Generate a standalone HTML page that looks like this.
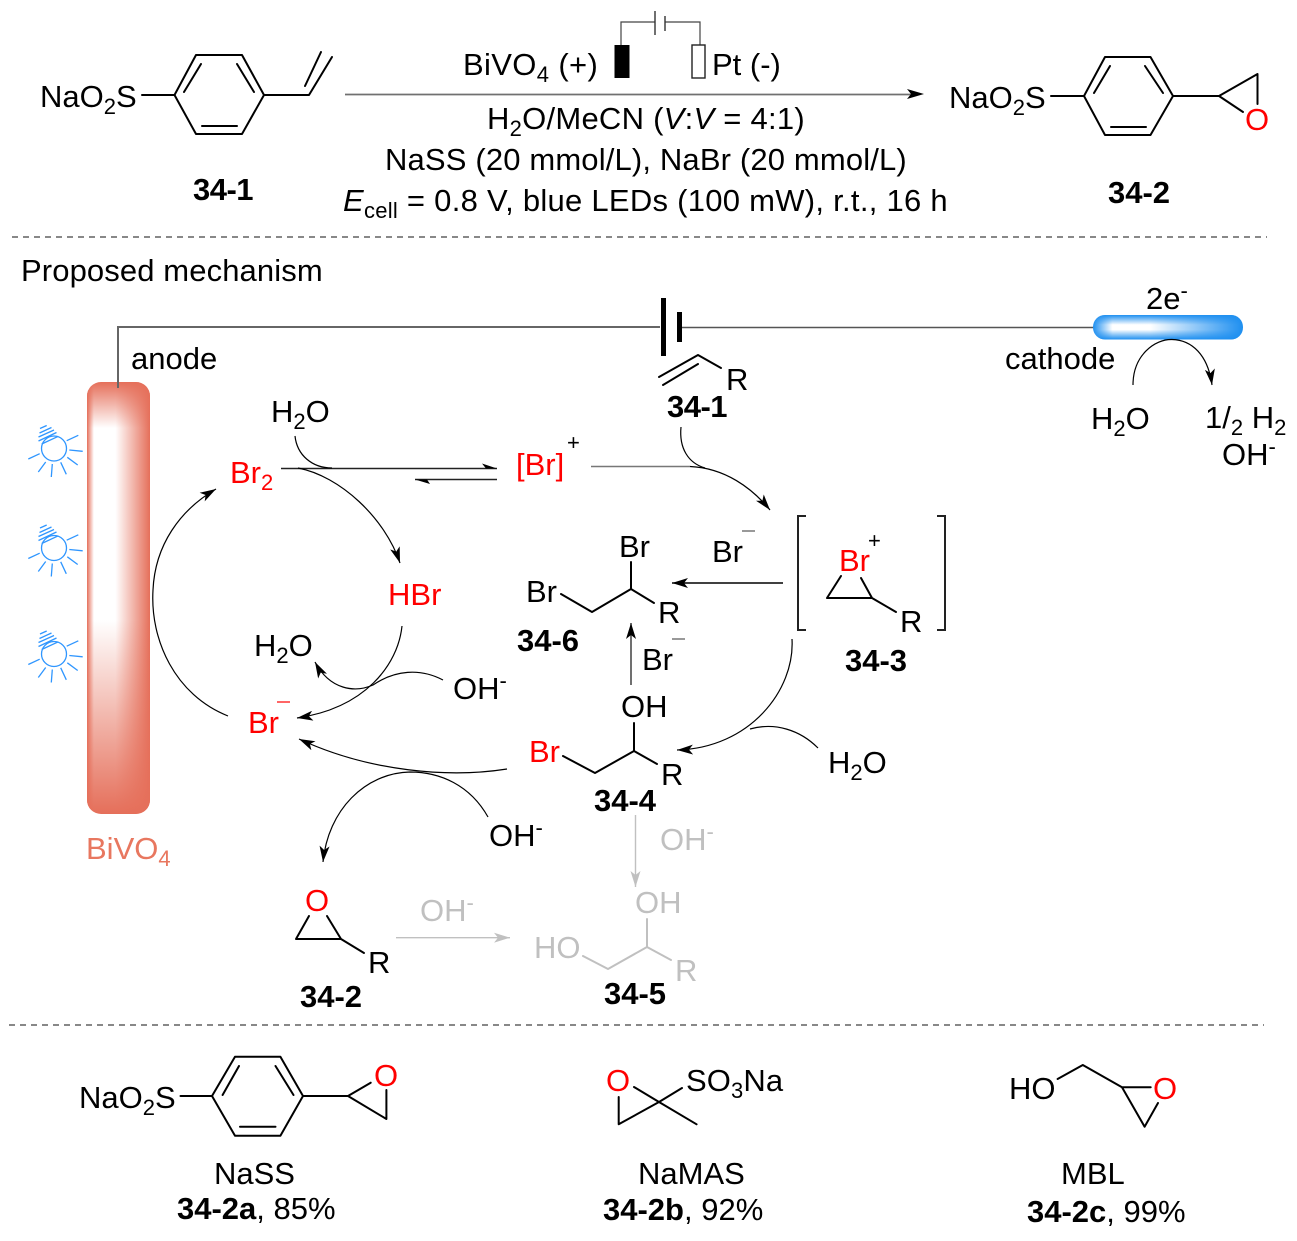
<!DOCTYPE html>
<html><head><meta charset="utf-8"><style>
html,body{margin:0;padding:0;background:#fff}
svg{display:block}
text{font-family:"Liberation Sans",sans-serif;font-size:31px;fill:#000}
.b{font-weight:bold}.r{fill:#f00}.g{fill:#c0c0c0}
.s{font-size:22px}
.bd{stroke:#000;stroke-width:2;fill:none;stroke-linecap:round;stroke-linejoin:round}
.gb{stroke:#c0c0c0;stroke-width:2;fill:none;stroke-linecap:round;stroke-linejoin:round}
.c{stroke:#000;stroke-width:1.2;fill:none}
</style></head><body>
<svg width="1297" height="1241" viewBox="0 0 1297 1241" xmlns="http://www.w3.org/2000/svg">
<defs>
<marker id="h" markerUnits="userSpaceOnUse" markerWidth="16" markerHeight="10" viewBox="0 0 16 10" refX="16" refY="5" orient="auto"><path d="M16 5L0 0L4 5L0 10Z" fill="#000"/></marker>
<marker id="hg" markerUnits="userSpaceOnUse" markerWidth="16" markerHeight="10" viewBox="0 0 16 10" refX="16" refY="5" orient="auto"><path d="M16 5L0 0L4 5L0 10Z" fill="#c0c0c0"/></marker>
<linearGradient id="ah"><stop offset="0" stop-color="#e56f5a"/><stop offset=".11" stop-color="#fff"/><stop offset=".45" stop-color="#fff"/><stop offset="1" stop-color="#e56f5a"/></linearGradient>
<linearGradient id="at" x1="0" y1="0" x2="0" y2="1"><stop offset="0" stop-color="#e56f5a"/><stop offset="1" stop-color="#e56f5a" stop-opacity="0"/></linearGradient>
<linearGradient id="ab" x1="0" y1="0" x2="0" y2="1"><stop offset="0" stop-color="#e56f5a" stop-opacity="0"/><stop offset="1" stop-color="#e56f5a"/></linearGradient>
<linearGradient id="ch"><stop offset="0" stop-color="#1e8ff0"/><stop offset=".13" stop-color="#fff"/><stop offset=".38" stop-color="#fff"/><stop offset="1" stop-color="#1e8ff0"/></linearGradient>
<linearGradient id="cv" x1="0" y1="0" x2="0" y2="1"><stop offset="0" stop-color="#1e8ff0"/><stop offset=".4" stop-color="#1e8ff0" stop-opacity="0"/><stop offset=".6" stop-color="#1e8ff0" stop-opacity="0"/><stop offset="1" stop-color="#1e8ff0"/></linearGradient>
<clipPath id="ac"><rect x="87" y="382" width="63" height="432" rx="14"/></clipPath>
<g id="bulb" fill="none" stroke="#2f96ff" stroke-width="1.3">
<circle cx="54" cy="448.5" r="12.5"/>
<path d="M66.7 440.7L78.3 435.3M69.3 450L82.7 451.3M67.3 457.3L77.7 465M60.7 462.3L66.3 474.3M52.3 464L51.3 477M45.7 462L38.3 472M39.7 453.7L28.3 459M41.7 444L58.3 436.3M38.5 441L56.5 432.5M38.5 437L54 430M39.5 433L51.5 427.5M40 428.5L46.7 425.5"/>
</g>
</defs>

<!-- top reaction -->
<text x="40" y="107">NaO<tspan class="s" dy="7">2</tspan><tspan dy="-7">S</tspan></text>
<path class="bd" d="M142 95H174.5L196 55H242L264 95L242 134H196L174.5 95M201 64L184 92M237 64L254 92M202 126H237M264 95H309L332 57M305 86L321 52"/>
<text class="b" x="193" y="200" style="letter-spacing:-.5px">34-1</text>

<path d="M345 94.5H912" stroke="#707070" stroke-width="1.8" fill="none"/>
<path d="M924 94L907 89L911 94L907 99Z"/>
<path d="M621 45V22H655M665 22H700V45" stroke="#444" stroke-width="1.2" fill="none"/>
<path d="M655 11V35M665 16V31" stroke="#333" stroke-width="1.4" fill="none"/>
<rect x="614.5" y="45" width="15" height="33"/>
<rect x="692" y="45" width="13" height="33" fill="#fff" stroke="#222" stroke-width="1.4"/>
<text x="463" y="75" style="letter-spacing:.35px">BiVO<tspan class="s" dy="7">4</tspan><tspan dy="-7"> (+)</tspan></text>
<text x="712" y="75">Pt (-)</text>
<text x="487" y="129" style="letter-spacing:.25px">H<tspan class="s" dy="7">2</tspan><tspan dy="-7">O/MeCN (</tspan><tspan font-style="italic">V</tspan>:<tspan font-style="italic">V</tspan> = 4:1)</text>
<text x="385" y="170" style="letter-spacing:.15px">NaSS (20 mmol/L), NaBr (20 mmol/L)</text>
<text x="343" y="211" style="letter-spacing:.27px"><tspan font-style="italic">E</tspan><tspan class="s" dy="7">cell</tspan><tspan dy="-7"> = 0.8 V, blue LEDs (100 mW), r.t., 16 h</tspan></text>

<text x="949" y="108">NaO<tspan class="s" dy="7">2</tspan><tspan dy="-7">S</tspan></text>
<path class="bd" d="M1051 96H1084L1105 57H1150.5L1173 96L1150.5 135H1105L1084 96M1110 66L1094 93M1145 66L1163 93M1111 127H1146M1173 96H1219L1257.5 74V104M1219 96L1243 112"/>
<text class="r" x="1245" y="130">O</text>
<text class="b" x="1108" y="203">34-2</text>

<path d="M12 237H1267" stroke="#111" stroke-width="1" stroke-dasharray="6 5" fill="none"/>
<text x="21" y="281" style="letter-spacing:.11px">Proposed mechanism</text>

<!-- circuit -->
<path d="M118 388V327H660" stroke="#666" stroke-width="2" fill="none"/>
<path d="M680 327.5H1095" stroke="#555" stroke-width="1.6" fill="none"/>
<rect x="661" y="298" width="5" height="58"/>
<rect x="677" y="312" width="5" height="30"/>
<text x="131" y="369">anode</text>
<text x="1005" y="369">cathode</text>
<rect x="1093" y="315" width="150" height="24.5" rx="12" fill="url(#ch)"/>
<rect x="1093" y="315" width="150" height="24.5" rx="12" fill="url(#cv)"/>
<text x="1146" y="309">2e<tspan class="s" dy="-11">-</tspan></text>
<path class="c" d="M1133 385C1133 355 1155 339 1172 339.5C1192 340 1208 355 1212 385" marker-end="url(#h)"/>
<text x="1091" y="429">H<tspan class="s" dy="7">2</tspan><tspan dy="-7">O</tspan></text>
<text x="1205" y="428">1/<tspan class="s" dy="7">2</tspan><tspan dy="-7"> H</tspan><tspan class="s" dy="7">2</tspan></text>
<text x="1222" y="465">OH<tspan class="s" dy="-11">-</tspan></text>

<!-- anode -->
<g clip-path="url(#ac)">
<rect x="87" y="382" width="63" height="432" fill="url(#ah)"/>
<rect x="87" y="382" width="63" height="46" fill="url(#at)"/>
<rect x="87" y="620" width="63" height="194" fill="url(#ab)"/>
</g>
<path d="M118 360V388" stroke="#666" stroke-width="2"/>
<text x="86" y="859" style="fill:#e8775f">BiVO<tspan class="s" dy="7">4</tspan></text>
<use href="#bulb"/><use href="#bulb" y="99.5"/><use href="#bulb" y="205.5"/>

<!-- mechanism labels -->
<text x="271" y="422">H<tspan class="s" dy="7">2</tspan><tspan dy="-7">O</tspan></text>
<text class="r" x="230" y="483">Br<tspan class="s" dy="7">2</tspan></text>
<text class="r" x="516" y="475">[Br]</text>
<text class="s" x="567" y="450">+</text>
<text class="r" x="388" y="605">HBr</text>
<text x="254" y="656">H<tspan class="s" dy="7">2</tspan><tspan dy="-7">O</tspan></text>
<text x="453" y="699">OH<tspan class="s" dy="-11">-</tspan></text>
<text class="r" x="248" y="733">Br</text>
<path d="M277 702H290" stroke="#f00" stroke-width="1.2"/>
<text x="489" y="846">OH<tspan class="s" dy="-11">-</tspan></text>

<!-- curved arrows -->
<path d="M281 468.5H497" stroke="#222" stroke-width="1.5" fill="none"/>
<path d="M497 468.5L482 463.5L486 468.5Z"/>
<path d="M497 479.5H415" stroke="#222" stroke-width="1.5" fill="none"/>
<path d="M415 479.5L430 484L427 479.5Z"/>
<path class="c" d="M295 436C297 455 312 468 332 468"/>
<path class="c" d="M298 468C340 476 385 518 400 563" marker-end="url(#h)"/>
<path class="c" d="M402 626C398 665 365 708 297 718" marker-end="url(#h)"/>
<path class="c" d="M443 680C420 668 395 670 373 685C355 693 330 690 315 662" marker-end="url(#h)"/>
<path class="c" d="M507 769C450 778 370 772 299 739" marker-end="url(#h)"/>
<path class="c" d="M488 817C470 785 440 772 410 772C365 773 328 810 323 862" marker-end="url(#h)"/>
<path class="c" d="M228 716C175 695 150 640 153 590C155 545 180 510 216 489" marker-end="url(#h)"/>
<path d="M591 466.5H690" stroke="#777" stroke-width="1.5" fill="none"/>
<path class="c" d="M690 466.5C725 468 752 488 770 510" marker-end="url(#h)"/>
<path class="c" d="M681 427C679 448 688 463 705 468"/>
<path class="c" d="M792 639C795 690 750 748 677 750" marker-end="url(#h)"/>
<path class="c" d="M818 748C800 730 775 722 750 729"/>

<!-- 34-1 small -->
<path class="bd" d="M659 377L698 355L721 368M663 385L698 364"/>
<text x="726" y="390">R</text>
<text class="b" x="667" y="417" style="letter-spacing:-.5px">34-1</text>

<!-- 34-3 -->
<path d="M806 516H798V630H806M937 516H945V630H937" stroke="#222" stroke-width="2" fill="none"/>
<text class="r" x="839" y="571">Br</text>
<text class="s" x="868" y="548">+</text>
<path class="bd" d="M841 576L827 598H872L861 578M872 598L896 612"/>
<text x="900" y="632">R</text>
<text class="b" x="845" y="671">34-3</text>
<path d="M783 583H672" stroke="#000" stroke-width="1.5" fill="none" marker-end="url(#h)"/>
<text x="712" y="562">Br</text>
<path d="M742 531H755" stroke="#555" stroke-width="1.2"/>

<!-- 34-6 -->
<text x="526" y="602">Br</text>
<text x="619" y="557">Br</text>
<path class="bd" d="M561 594L592 612L631 589V562M631 589L654 603"/>
<text x="658" y="623">R</text>
<text class="b" x="517" y="651">34-6</text>
<path d="M631 685V623" stroke="#333" stroke-width="1.4" fill="none" marker-end="url(#h)"/>
<text x="642" y="670">Br</text>
<path d="M672 639H685" stroke="#555" stroke-width="1.2"/>

<!-- 34-4 -->
<text x="621" y="717">OH</text>
<text class="r" x="529" y="762">Br</text>
<path class="bd" d="M563 756L595 773L634 751V723M634 751L657 764"/>
<text x="661" y="785">R</text>
<text class="b" x="594" y="811">34-4</text>
<text x="828" y="773">H<tspan class="s" dy="7">2</tspan><tspan dy="-7">O</tspan></text>

<!-- 34-5 gray -->
<path d="M635.5 815V887" stroke="#c0c0c0" stroke-width="1.4" fill="none" marker-end="url(#hg)"/>
<text class="g" x="660" y="850">OH<tspan class="s" dy="-11">-</tspan></text>
<text class="g" x="635" y="913">OH</text>
<text class="g" x="534" y="958">HO</text>
<path class="gb" d="M583 956L608 969L647 947V919M647 947L671 960"/>
<text class="g" x="675" y="981">R</text>
<text class="b" x="604" y="1004">34-5</text>

<!-- 34-2 small -->
<text class="r" x="305" y="911">O</text>
<path class="bd" d="M309 916L296 939H341L327 916M341 939L364 953"/>
<text x="368" y="973">R</text>
<text class="b" x="300" y="1007">34-2</text>
<path d="M396 937.7H510" stroke="#c0c0c0" stroke-width="1.4" fill="none" marker-end="url(#hg)"/>
<text class="g" x="420" y="921">OH<tspan class="s" dy="-11">-</tspan></text>

<path d="M9 1025H1264" stroke="#111" stroke-width="1" stroke-dasharray="6 5" fill="none"/>

<!-- bottom -->
<text x="79" y="1108">NaO<tspan class="s" dy="7">2</tspan><tspan dy="-7">S</tspan></text>
<path class="bd" d="M180.5 1096H212L235 1056.7H280.4L303 1096L280.4 1135.7H235L212 1096M239 1066L222.6 1095M275.5 1066L293.5 1095M240 1126.7H275.5M303 1096H348L370.7 1082.7M348 1096L386.4 1119V1090"/>
<text class="r" x="374" y="1086">O</text>
<text x="214" y="1184">NaSS</text>
<text x="177" y="1219"><tspan class="b">34-2a</tspan>, 85%</text>

<text class="r" x="606" y="1091">O</text>
<path class="bd" d="M634 1087L659 1102L682 1088M618.7 1097V1124.3L659 1102L696.6 1124.3"/>
<text x="686" y="1091" style="letter-spacing:.1px">SO<tspan class="s" dy="7">3</tspan><tspan dy="-7">Na</tspan></text>
<text x="638" y="1184">NaMAS</text>
<text x="603" y="1220"><tspan class="b">34-2b</tspan>, 92%</text>

<text x="1009" y="1099">HO</text>
<path class="bd" d="M1057.6 1079L1082.8 1065L1122 1087.3H1150.7M1122 1087.3L1144.6 1126.7L1158 1103"/>
<text class="r" x="1153" y="1099">O</text>
<text x="1061" y="1184">MBL</text>
<text x="1027" y="1222"><tspan class="b">34-2c</tspan>, 99%</text>
</svg>
</body></html>
